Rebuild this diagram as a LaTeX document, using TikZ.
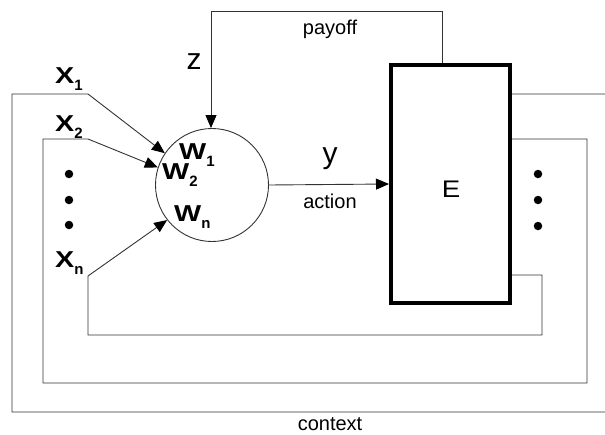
\documentclass[tikz,border=0pt]{standalone}
\usepackage{fontspec}
\usepackage{graphicx}
\setmainfont{Liberation Sans}
\usetikzlibrary{arrows.meta}

% text helpers: a wide bold symbol with a lowered subscript
\newcommand\symsub[2]{%
  \scalebox{1.25}[1]{\fontsize{23}{23}\selectfont\bfseries #1}%
  \raisebox{-7pt}{\fontsize{15}{15}\selectfont\bfseries #2}}

\begin{document}
\begin{tikzpicture}[x=1pt,y=-1pt,
  wire/.style={draw=black!80,line width=0.9pt},
  arr/.style={wire,-{Triangle[length=13pt,width=11pt,black]}},
  lbl/.style={inner sep=0pt,font=\fontsize{20}{20}\selectfont},
  big/.style={inner sep=0pt,font=\fontsize{30}{30}\selectfont},
  sym/.style={inner sep=0pt,anchor=base west},
  dot/.style={circle,fill=black,inner sep=0pt,minimum size=8.5pt}]
\useasboundingbox (0,0) rectangle (605,434);

% agent and environment
\node[circle,draw=black!80,line width=0.9pt,minimum size=113pt,inner sep=0pt] (agent) at (212,185) {};
\node[draw=black,line width=4pt,minimum width=119pt,minimum height=238pt,inner sep=0pt] (env) at (450.5,184) {};
\node[inner sep=0pt,font=\fontsize{24}{24}\selectfont] (elabel) at (451,189) {\scalebox{1.15}[1]{E}};

% feedback loop corners
\coordinate (pr) at (442,11);
\coordinate (pl) at (211,11);
\coordinate (o1) at (606,94);
\coordinate (o2) at (606,412);
\coordinate (o3) at (12,412);
\coordinate (o4) at (12,94);
\coordinate (o5) at (88,94);
\coordinate (m1) at (587,139);
\coordinate (m2) at (587,383);
\coordinate (m3) at (43,383);
\coordinate (m4) at (43,139);
\coordinate (m5) at (88,139);
\coordinate (i1) at (542,275);
\coordinate (i2) at (542,335);
\coordinate (i3) at (88,335);
\coordinate (i4) at (88,276);

% payoff
\draw[arr] (env.north -| pr) -- (pr) -- (pl) -- (agent.north -| pl);
% action
\draw[arr] (agent.east) -- (env.west);
% context loops
\draw[arr] (env.east |- o1) -- (o1) -- (o2) -- (o3) -- (o4) -- (o5) -- (agent.146);
\draw[arr] (env.east |- m1) -- (m1) -- (m2) -- (m3) -- (m4) -- (m5) -- (agent.162);
\draw[arr] (env.east |- i1) -- (i1) -- (i2) -- (i3) -- (i4) -- (agent.218);

% labels
\node[lbl] (payoff) at (330,29) {payoff};
\node[lbl] (action) at (330,201) {action};
\node[lbl] (context) at (330,424) {context};
\node[big] (z) at (194,62) {z};
\node[big] (y) at (330,159) {y};

\node[sym] (x1) at (55,83) {\symsub{X}{1}};
\node[sym] (x2) at (55,131) {\symsub{X}{2}};
\node[sym] (xn) at (55,267) {\symsub{X}{n}};
\node[sym] (w1) at (179,159) {\symsub{W}{1}};
\node[sym] (w2) at (162,179) {\symsub{W}{2}};
\node[sym] (wn) at (174,221) {\symsub{W}{n}};

% ellipses
\node[dot] (ld1) at (69,174) {};
\node[dot] (ld2) at (69,200) {};
\node[dot] (ld3) at (69,225) {};
\node[dot] (rd1) at (538,174) {};
\node[dot] (rd2) at (538,200) {};
\node[dot] (rd3) at (538,226) {};
\end{tikzpicture}
\end{document}
